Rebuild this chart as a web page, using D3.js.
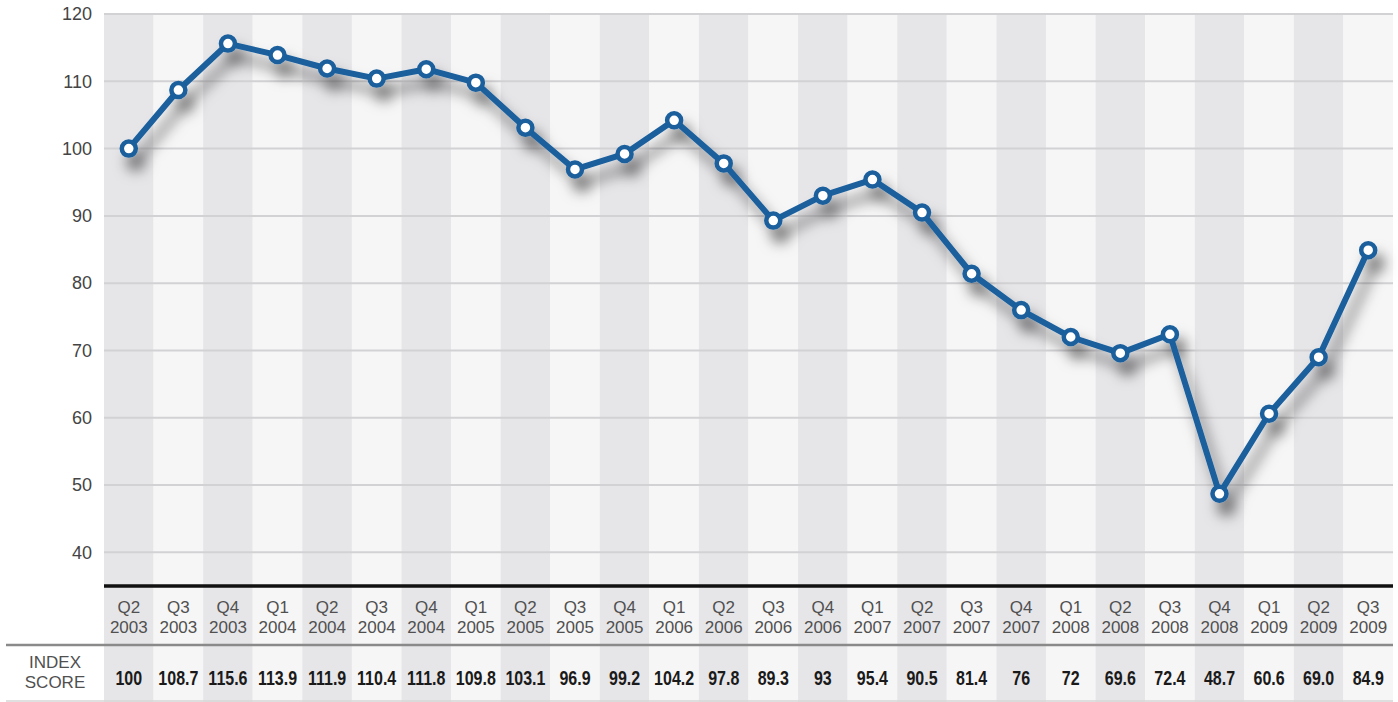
<!DOCTYPE html>
<html><head><meta charset="utf-8">
<script src="https://cdn.jsdelivr.net/npm/d3@7"></script>
<style>body{margin:0;background:#fff}svg{display:block}</style>
</head><body><svg id="c" width="1398" height="702"></svg>
<script>
const quarters = ["Q2","Q3","Q4","Q1","Q2","Q3","Q4","Q1","Q2","Q3","Q4","Q1","Q2","Q3","Q4","Q1","Q2","Q3","Q4","Q1","Q2","Q3","Q4","Q1","Q2","Q3"];
const years = ["2003","2003","2003","2004","2004","2004","2004","2005","2005","2005","2005","2006","2006","2006","2006","2007","2007","2007","2007","2008","2008","2008","2008","2009","2009","2009"];
const scores = [100,108.7,115.6,113.9,111.9,110.4,111.8,109.8,103.1,96.9,99.2,104.2,97.8,89.3,93,95.4,90.5,81.4,76,72,69.6,72.4,48.7,60.6,69.0,84.9];
const scoreLabels = ["100","108.7","115.6","113.9","111.9","110.4","111.8","109.8","103.1","96.9","99.2","104.2","97.8","89.3","93","95.4","90.5","81.4","76","72","69.6","72.4","48.7","60.6","69.0","84.9"];
const yTicks = [40,50,60,70,80,90,100,110,120];
const rowLabel = ["INDEX","SCORE"];

(function(){
const svg = d3.select("#c");
const pL = 104, pR = 1393, pT = 14, pB = 586;
const keys = d3.range(scores.length);
const x = d3.scaleBand().domain(keys).range([pL, pR]).padding(0);
const y = d3.scaleLinear().domain([35, 120]).range([pB, pT]);
const cx = i => x(i) + x.bandwidth() / 2;

const defs = svg.append("defs");
const f = defs.append("filter").attr("id","sh").attr("x","-20%").attr("y","-20%").attr("width","140%").attr("height","160%");
f.append("feDropShadow").attr("dx",7).attr("dy",13).attr("stdDeviation",7).attr("flood-color","#000").attr("flood-opacity",0.55);

svg.append("g").selectAll("rect").data(keys).join("rect")
  .attr("x", d => x(d)).attr("y", pT).attr("width", x.bandwidth()).attr("height", 702 - pT)
  .attr("fill", d => d % 2 === 0 ? "#e6e6e9" : "#f6f6f6");

svg.append("g").selectAll("line").data(yTicks).join("line")
  .attr("x1", pL).attr("x2", pR).attr("y1", d => y(d)).attr("y2", d => y(d))
  .attr("stroke", "#d2d2d5").attr("stroke-width", 2);

const yAxis = d3.axisLeft(y).tickValues(yTicks).tickSize(0).tickPadding(0);
const ga = svg.append("g").attr("transform", `translate(${pL - 12},0)`).call(yAxis);
ga.select(".domain").remove();
ga.selectAll("text").attr("font-family","Liberation Sans, Arial, sans-serif").attr("font-size",18).attr("fill","#444");

svg.append("line").attr("x1", pL).attr("x2", pR).attr("y1", pB).attr("y2", pB)
  .attr("stroke","#111").attr("stroke-width",3.5);
svg.append("line").attr("x1", 6).attr("x2", pR).attr("y1", 645).attr("y2", 645)
  .attr("stroke","#8a8a8a").attr("stroke-width",2.5);
svg.append("line").attr("x1", 6).attr("x2", pR).attr("y1", 701).attr("y2", 701)
  .attr("stroke","#d6d6d6").attr("stroke-width",1.5);

const xAxis = d3.axisBottom(x).tickSize(0).tickFormat(() => "");
const gx = svg.append("g").attr("transform", `translate(0,${pB})`).call(xAxis);
gx.select(".domain").remove();
gx.selectAll(".tick text").each(function(d){
  const t = d3.select(this).text(null).attr("y", 0).attr("dy", 0)
    .attr("font-family","Liberation Sans, Arial, sans-serif").attr("font-size",17).attr("fill","#505050");
  t.append("tspan").attr("x",0).attr("y",27).text(quarters[d]);
  t.append("tspan").attr("x",0).attr("y",47).text(years[d]);
});

svg.append("g").selectAll("text").data(keys).join("text")
  .attr("transform", d => `translate(${cx(d)},685) scale(0.8,1)`).attr("text-anchor","middle")
  .attr("font-family","Liberation Sans, Arial, sans-serif")
  .attr("font-weight","bold").attr("font-size",20).attr("fill","#1a1a1a")
  .text(d => scoreLabels[d]);

svg.append("text").attr("x",55).attr("text-anchor","middle")
  .attr("font-family","Liberation Sans, Arial, sans-serif").attr("font-size",17).attr("fill","#505050")
  .selectAll("tspan").data(rowLabel).join("tspan").attr("x",55).attr("y",(d,i)=> 668 + i*20).text(d=>d);

const g = svg.append("g").attr("filter","url(#sh)");
g.append("path").datum(keys)
  .attr("d", d3.line().x(cx).y(d => y(scores[d])))
  .attr("fill","none").attr("stroke","#1a5f9d").attr("stroke-width",6).attr("stroke-linejoin","round");
g.selectAll("circle").data(keys).join("circle")
  .attr("cx", cx).attr("cy", d => y(scores[d])).attr("r", 7)
  .attr("fill","#fff").attr("stroke","#1a5f9d").attr("stroke-width",4.5);
})();
</script></body></html>
